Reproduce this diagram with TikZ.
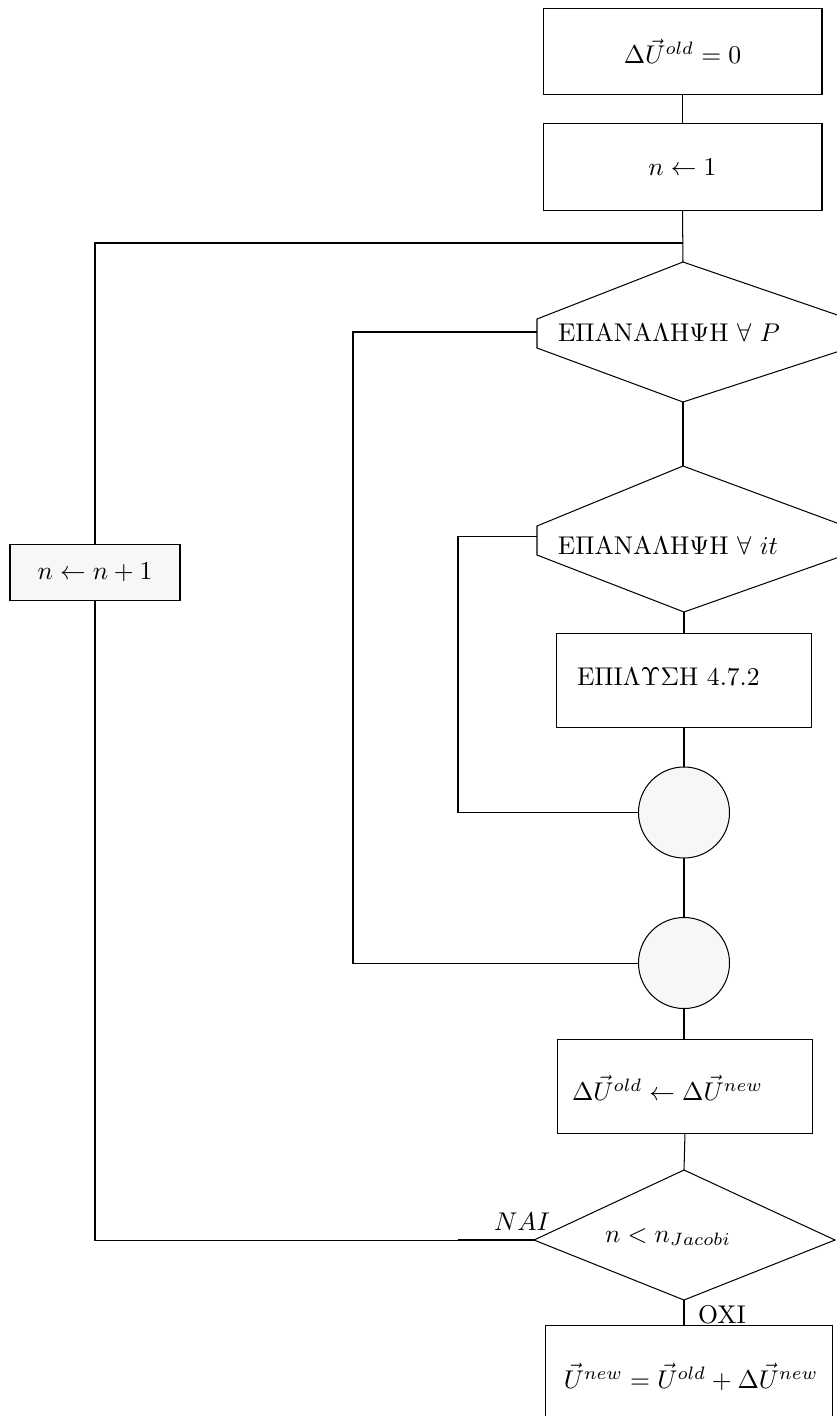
\documentclass[tikz,border=0pt]{standalone}
\definecolor{lightfill}{RGB}{247,247,247}
\begin{document}
\begin{tikzpicture}[x=0.39pt,y=-0.39pt,
  box/.style={draw, rectangle, inner sep=0pt, outer sep=0pt},
  joint/.style={draw, circle, fill=lightfill, minimum size=35.5pt, inner sep=0pt, outer sep=0pt},
  txt/.style={inner sep=0pt, outer sep=0pt},
  conn/.style={draw, line width=0.4pt}]
\useasboundingbox (0,0) rectangle (837,1416);
\clip (0,0) rectangle (837,1416);

% boxes
\node[box, minimum width=108.8pt, minimum height=33.9pt] (init) at (682.5,51.5) {$\Delta\vec{U}^{old}=0$};
\node[box, minimum width=108.8pt, minimum height=34.3pt] (nset) at (682.5,167) {$n\leftarrow 1$};
\node[box, fill=lightfill, minimum width=66.3pt, minimum height=22.2pt] (ninc) at (95,572.5) {$n\leftarrow n+1$};
\node[box, minimum width=99.1pt, minimum height=36.3pt] (solve) at (684,680.5) {};
\node[txt, anchor=west] (solvet) at (577,677) {E$\Pi$I$\Lambda\Upsilon\Sigma$H 4.7.2};
\node[box, minimum width=99.1pt, minimum height=36.3pt] (upd) at (685,1086.5) {};
\node[txt, anchor=west] (updt) at (572,1088) {$\Delta\vec{U}^{old}\leftarrow\Delta\vec{U}^{new}$};
\node[box, minimum width=112.3pt, minimum height=36.3pt] (final) at (689,1372) {};
\node[txt] (finalt) at (691,1377) {$\vec{U}^{new}=\vec{U}^{old}+\Delta\vec{U}^{new}$};

% circles
\node[joint] (c1) at (684,812.5) {};
\node[joint] (c2) at (684,963) {};

% hexagon 1
\coordinate (h1t) at (683,262);
\coordinate (h1ul) at (537,319);
\coordinate (h1ll) at (537,348);
\coordinate (h1b) at (683,402);
\coordinate (h1lr) at (849,348);
\coordinate (h1ur) at (849,319);
\coordinate (h1w) at (537,332);
\draw (h1t) -- (h1ul) -- (h1ll) -- (h1b) -- (h1lr) -- (h1ur) -- cycle;
\node[txt] (h1text) at (669,332) {E$\Pi$ANA$\Lambda$H$\Psi$H $\forall$ $P$};

% hexagon 2
\coordinate (h2t) at (683,466);
\coordinate (h2ul) at (537,526);
\coordinate (h2ll) at (537,555);
\coordinate (h2b) at (684,612);
\coordinate (h2lr) at (845,555);
\coordinate (h2ur) at (845,526);
\coordinate (h2w) at (537,536);
\draw (h2t) -- (h2ul) -- (h2ll) -- (h2b) -- (h2lr) -- (h2ur) -- cycle;
\node[txt] (h2text) at (668,545) {E$\Pi$ANA$\Lambda$H$\Psi$H $\forall$ $it$};

% decision
\coordinate (dt) at (684,1170);
\coordinate (dl) at (534,1240);
\coordinate (db) at (684,1300);
\coordinate (dr) at (835,1240);
\draw (dt) -- (dl) -- (db) -- (dr) -- cycle;
\node[txt] (dtext) at (668,1237) {$n<n_{Jacobi}$};

% helper coordinates
\coordinate (j1) at (683,243);
\coordinate (l1) at (353,332);
\coordinate (l2) at (458,536);
\coordinate (nai) at (458,1240);

% connectors
\draw[conn] (init.south) -- (nset.north);
\draw[conn] (nset.south) -- (h1t);
\draw[conn] (j1) -| (ninc.north);
\draw[conn] (h1b) -- (h2t);
\draw[conn] (h2b) -- (h2b |- solve.north);
\draw[conn] (solve.south) -- (c1.north);
\draw[conn] (c1.south) -- (c2.north);
\draw[conn] (c2.south) -- (c2.south |- upd.north);
\draw[conn] (upd.south) -- (dt);
\draw[conn] (db) -- (db |- final.north);
\draw[conn] (h1w) -- (l1) |- (c2.west);
\draw[conn] (h2w) -- (l2) |- (c1.west);
\draw[line width=0.8pt] (dl) -- (nai);
\draw[conn] (nai) -| (ninc.south);

% labels
\node[txt] (nailab) at (522,1222) {$NAI$};
\node[txt] (oxilab) at (722,1315) {OXI};
\end{tikzpicture}
\end{document}
